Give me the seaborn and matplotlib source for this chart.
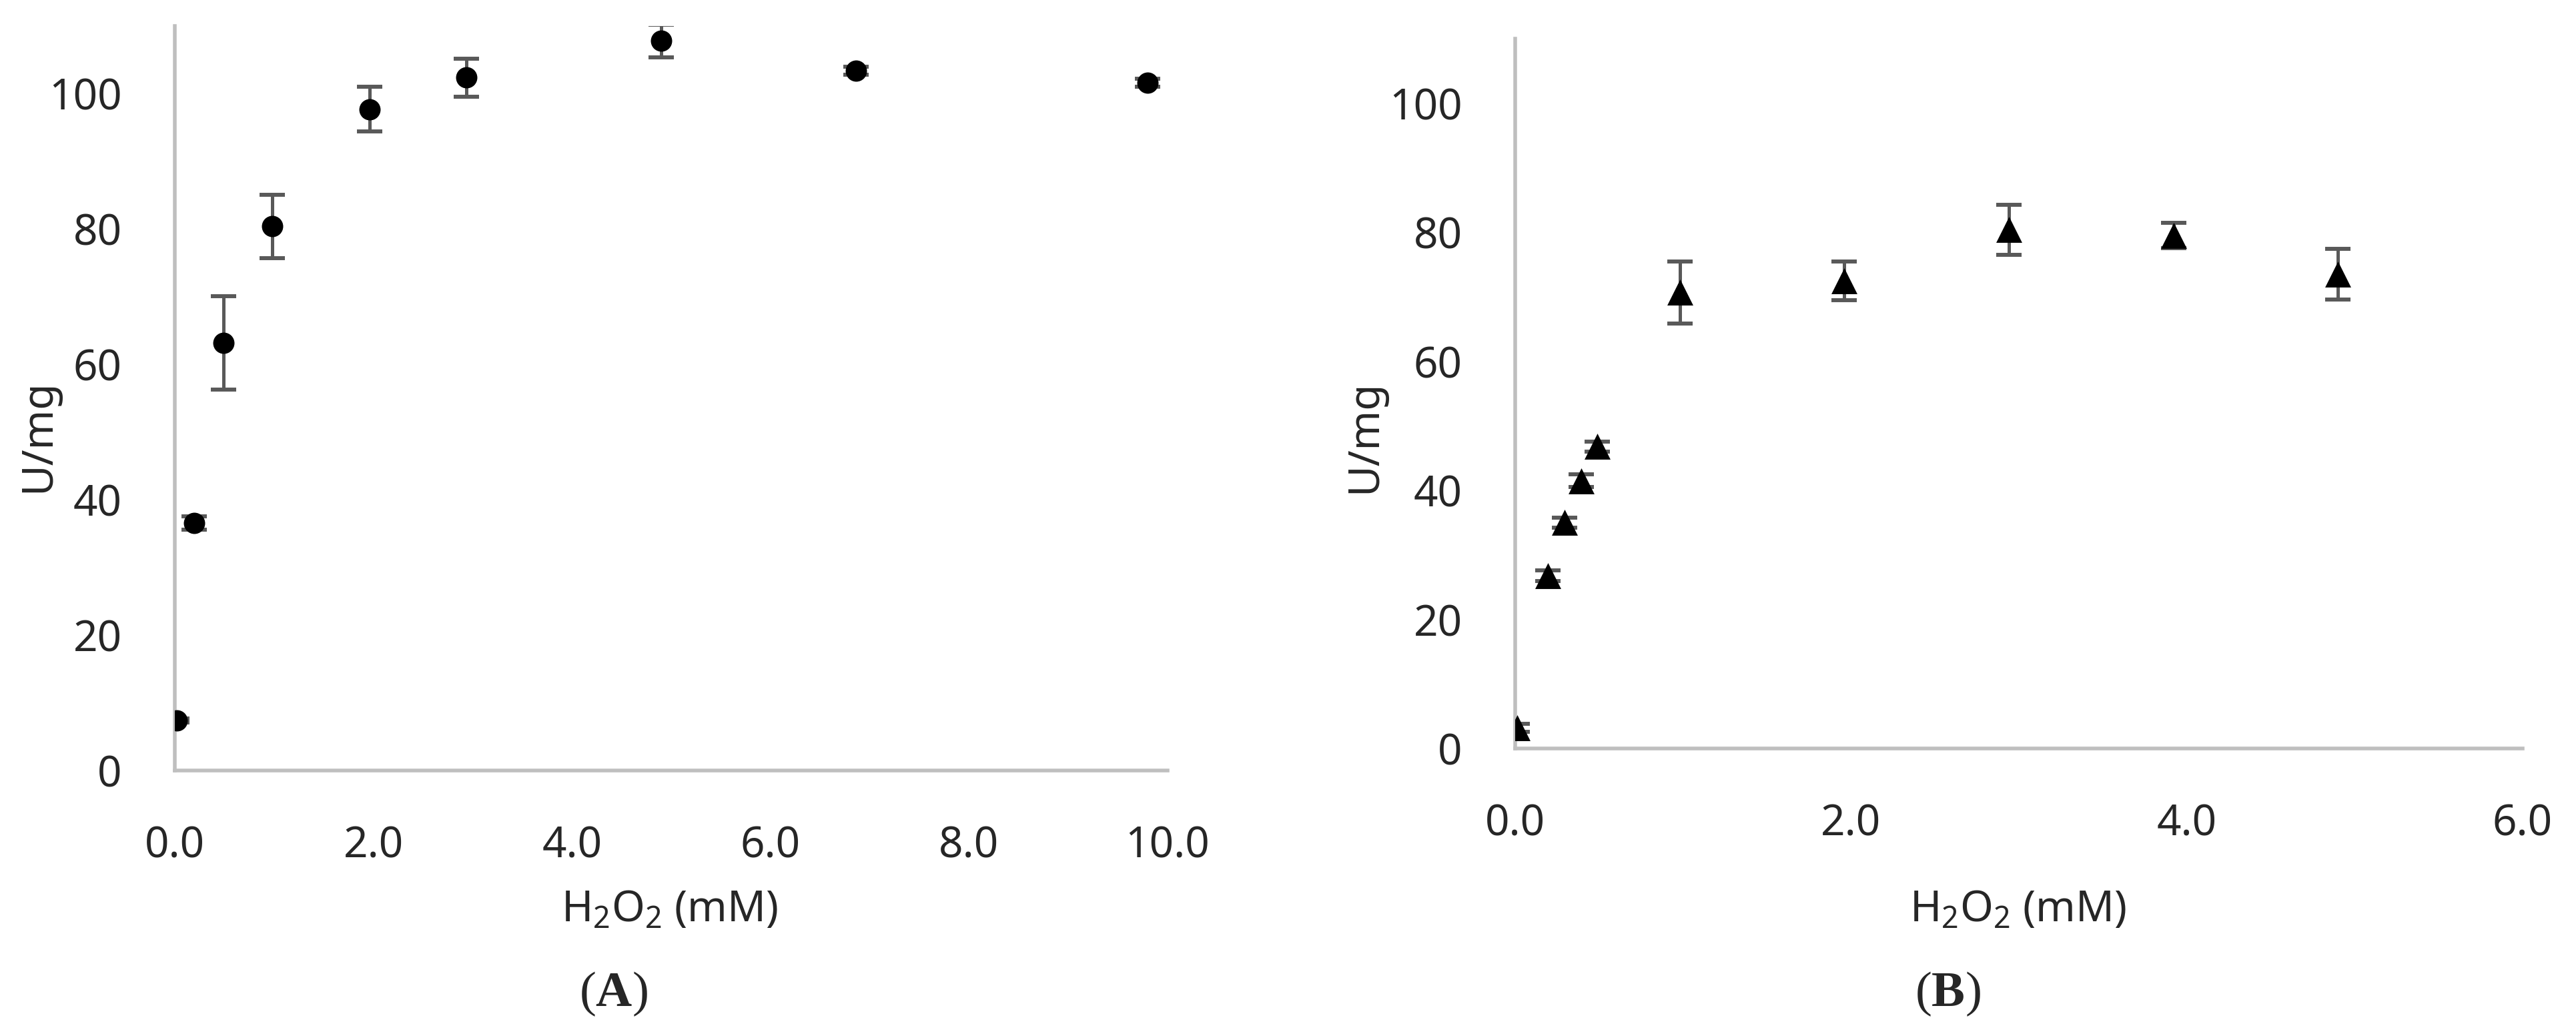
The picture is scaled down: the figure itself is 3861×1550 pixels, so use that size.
import matplotlib
matplotlib.use("Agg")
import matplotlib.pyplot as plt
import pandas as pd
import seaborn as sns

# panel A: circles
conc_a = [0.02, 0.196, 0.49, 0.98, 1.96, 2.94, 4.9, 6.86, 9.8]
act_a = [7.4, 36.6, 63.2, 80.4, 97.7, 102.4, 107.8, 103.4, 101.6]
err_a = [0.3, 1.0, 6.9, 4.7, 3.3, 2.8, 2.4, 0.6, 0.6]

# panel B: triangles
conc_b = [0.01, 0.196, 0.294, 0.392, 0.49, 0.98, 1.96, 2.94, 3.92, 4.9]
act_b = [3.2, 26.8, 35.0, 41.5, 46.8, 70.7, 72.5, 80.4, 79.5, 73.5]
err_b = [0.6, 0.8, 0.8, 1.0, 0.8, 4.8, 3.0, 3.9, 2.0, 3.9]

yticks = [0, 20, 40, 60, 80, 100]
xticks_a = [0.0, 2.0, 4.0, 6.0, 8.0, 10.0]
xticks_b = [0.0, 2.0, 4.0, 6.0]

sns.set_theme(style="white")
plt.rcParams["font.family"] = ["Noto Sans", "DejaVu Sans"]
plt.rcParams["mathtext.fontset"] = "custom"
plt.rcParams["mathtext.rm"] = "Noto Sans"
plt.rcParams["mathtext.bf"] = "Liberation Serif:bold"
plt.rcParams["mathtext.default"] = "regular"

W, H = 3862, 1550
fig = plt.figure(figsize=(W / 100, H / 100), dpi=100)
ax_a = fig.add_axes([262 / W, 1 - 1155 / H, 1488 / W, 1116 / H])
ax_b = fig.add_axes([2271 / W, 1 - 1122 / H, 1510 / W, 1064 / H])

FS = 46
panels = [
    (ax_a, conc_a, act_a, err_a, "o", 23, xticks_a, (-0.116, 0.45)),
    (ax_b, conc_b, act_b, err_b, "^", 28, xticks_b, (-0.128, 0.44)),
]
for ax, x, y, e, mk, ms, xt, lab_xy in panels:
    df = pd.DataFrame({"conc": x, "act": y, "err": e})
    ax.errorbar(df["conc"], df["act"], yerr=df["err"], fmt="none",
                ecolor="#595959", elinewidth=3.6, capsize=13.5,
                capthick=4.3, zorder=2)
    sns.scatterplot(data=df, x="conc", y="act", ax=ax, marker=mk,
                    s=ms ** 2, color="black", linewidth=0, zorder=3)
    ax.set_xlim(xt[0], xt[-1])
    ax.set_ylim(0, 110)
    ax.set_xticks(xt)
    ax.set_xticklabels([f"{v:.1f}" for v in xt])
    ax.set_yticks(yticks)
    ax.set_yticklabels([str(v) for v in yticks])
    ax.tick_params(axis="x", length=0, pad=59, labelsize=FS)
    ax.tick_params(axis="y", length=0, pad=57, labelsize=FS)
    for side in ["top", "right"]:
        ax.spines[side].set_visible(False)
    for side in ["left", "bottom"]:
        ax.spines[side].set_color("#BFBFBF")
        ax.spines[side].set_linewidth(4)
    ax.set_xlabel("")
    ax.set_ylabel("U/mg", fontsize=FS)
    ax.yaxis.set_label_coords(*lab_xy)
    ax.patch.set_alpha(0)

fig.text(1003 / W, 1 - 1365 / H, r"H$_2$O$_2$ (mM)", fontsize=FS,
         ha="center", va="center")
fig.text(3024 / W, 1 - 1365 / H, r"H$_2$O$_2$ (mM)", fontsize=FS,
         ha="center", va="center")
fig.text(919 / W, 1 - 1490 / H, r"($\mathbf{A}$)", fontsize=54,
         family="Liberation Serif", ha="center", va="center")
fig.text(2919 / W, 1 - 1490 / H, r"($\mathbf{B}$)", fontsize=54,
         family="Liberation Serif", ha="center", va="center")

fig.savefig("out.png", dpi=100, facecolor="white")
